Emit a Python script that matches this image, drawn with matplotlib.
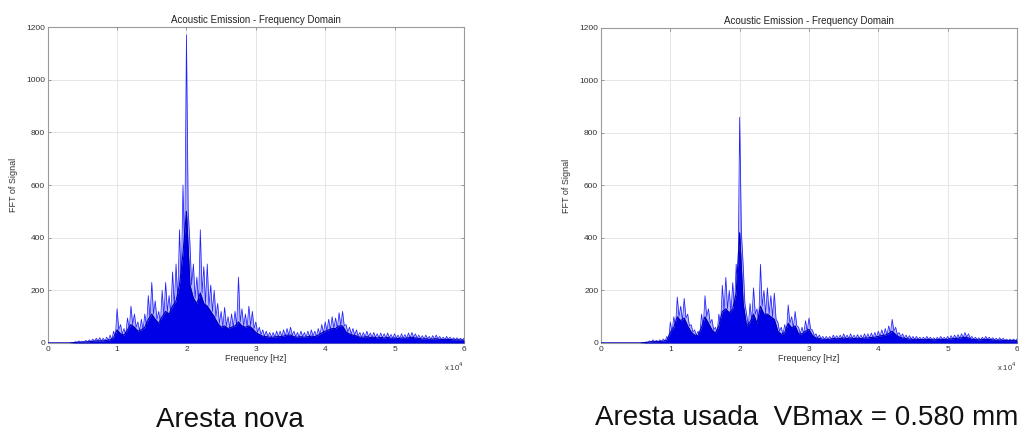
import numpy as np
import matplotlib
matplotlib.use('Agg')
import matplotlib.pyplot as plt

plt.rcParams['font.family'] = ['Liberation Sans', 'DejaVu Sans']

# frequency sampling positions (kHz), 0.5 kHz apart
freq_khz = np.arange(0, 60.01, 0.5)

# Aresta nova (new edge): peak envelope and dense core
new_peak = [0, 0, 0, 0, 0, 0, 0, 2, 5, 8,
            6, 10, 12, 15, 18, 20, 18, 22, 30, 45,
            130, 70, 55, 95, 140, 110, 80, 90, 110, 180,
            230, 160, 120, 200, 230, 180, 270, 300, 430, 600,
            1170, 380, 300, 250, 430, 290, 300, 220, 200, 150,
            120, 135, 100, 110, 120, 250, 130, 110, 140, 120,
            80, 60, 50, 45, 40, 40, 45, 45, 50, 55,
            60, 45, 40, 45, 40, 45, 50, 45, 55, 70,
            80, 90, 100, 95, 115, 120, 70, 60, 55, 50,
            40, 40, 45, 38, 40, 35, 38, 35, 38, 32,
            35, 30, 35, 32, 38, 40, 35, 30, 28, 30,
            25, 28, 30, 25, 22, 25, 22, 20, 20, 18,
            18]
new_core = [0, 0, 0, 0, 0, 0, 0, 1, 2, 3,
            3, 4, 5, 6, 8, 8, 8, 10, 12, 20,
            50, 35, 30, 50, 70, 60, 45, 50, 60, 90,
            110, 90, 75, 100, 120, 110, 140, 160, 220, 340,
            500, 220, 170, 150, 190, 150, 140, 120, 100, 75,
            60, 65, 55, 60, 65, 80, 65, 60, 65, 55,
            40, 32, 26, 24, 22, 22, 24, 24, 26, 30,
            30, 24, 22, 24, 22, 24, 26, 24, 30, 38,
            45, 50, 55, 55, 65, 65, 42, 34, 30, 27,
            22, 22, 24, 21, 22, 19, 21, 19, 21, 18,
            19, 17, 19, 18, 20, 22, 19, 17, 15, 16,
            14, 15, 16, 14, 13, 14, 13, 12, 12, 11,
            11]

# Aresta usada (worn edge, VBmax = 0.580 mm)
used_peak = [0, 0, 0, 0, 0, 0, 0, 0, 0, 0,
             0, 0, 2, 4, 8, 12, 10, 12, 15, 25,
             80, 100, 175, 140, 170, 110, 70, 50, 45, 110,
             180, 130, 90, 60, 110, 220, 250, 200, 230, 300,
             860, 300, 110, 150, 210, 130, 300, 200, 210, 180,
             190, 80, 60, 70, 145, 100, 120, 60, 60, 85,
             95, 50, 35, 30, 25, 25, 25, 30, 28, 30,
             35, 30, 35, 30, 32, 30, 35, 35, 38, 40,
             45, 50, 55, 65, 90, 60, 40, 35, 30, 28,
             25, 25, 22, 22, 25, 22, 20, 22, 25, 22,
             25, 28, 30, 32, 35, 40, 35, 25, 22, 20,
             22, 25, 22, 20, 18, 20, 18, 15, 15, 15,
             15]
used_core = [0, 0, 0, 0, 0, 0, 0, 0, 0, 0,
             0, 0, 1, 2, 4, 5, 5, 6, 7, 10,
             40, 60, 100, 85, 95, 65, 42, 30, 28, 60,
             100, 75, 50, 38, 65, 120, 130, 115, 130, 190,
             420, 150, 65, 80, 110, 75, 140, 110, 110, 100,
             90, 45, 33, 40, 75, 58, 65, 35, 35, 45,
             52, 28, 20, 17, 14, 14, 14, 17, 16, 17,
             19, 17, 19, 17, 18, 17, 19, 19, 21, 22,
             25, 28, 30, 36, 45, 32, 23, 19, 17, 15,
             14, 14, 13, 13, 14, 13, 12, 13, 14, 13,
             14, 16, 17, 18, 20, 22, 19, 14, 13, 12,
             13, 14, 13, 12, 10, 11, 10, 9, 9, 9,
             9]

x_ticks = [0, 10000, 20000, 30000, 40000, 50000, 60000]
x_tick_labels = ['0', '1', '2', '3', '4', '5', '6']
y_ticks = [0, 200, 400, 600, 800, 1000, 1200]

title = 'Acoustic Emission - Frequency Domain'
captions = ['Aresta nova', 'Aresta usada  VBmax = 0.580 mm']

fig = plt.figure(figsize=(10.19, 4.34), dpi=100)
ax1 = fig.add_axes([0.0468, 0.2097, 0.4085, 0.728])
ax2 = fig.add_axes([0.5898, 0.2097, 0.4082, 0.7258])


def draw(ax, peak, core):
    f = freq_khz * 1000.0
    xs, ys = [], []
    for i in range(len(f)):
        xs.append(f[i]); ys.append(peak[i])
        if i < len(f) - 1:
            xs.append(f[i] + 250.0); ys.append(core[i])
    ax.fill_between(xs, 0, ys, color='#5a5aff', alpha=0.45, lw=0, zorder=2)
    ax.plot(xs, ys, color='#2020ff', lw=0.55, zorder=3)
    ax.fill_between(f, 0, core, color='#0000e6', lw=0, zorder=4)
    ax.plot(f, core, color='#0000b0', lw=0.8, zorder=5)
    ax.set_xlim(0, 60000)
    ax.set_ylim(0, 1200)
    ax.set_xticks(x_ticks)
    ax.set_xticklabels(x_tick_labels)
    ax.set_yticks(y_ticks)
    ax.grid(True, color='#e2e2e2', lw=0.6, zorder=0)
    ax.set_axisbelow(True)
    ax.tick_params(direction='in', top=True, right=True, length=2.5, width=0.6,
                   labelsize=6, pad=2, color='#888888', labelcolor='#333333')
    for s in ax.spines.values():
        s.set_color('#9a9a9a')
        s.set_linewidth(0.8)
    ax.set_title(title, fontsize=7, pad=3, color='#222222')
    ax.set_xlabel('Frequency [Hz]', fontsize=6.5, labelpad=1, color='#333333')
    ax.set_ylabel('FFT of Signal', fontsize=6.5, labelpad=6, color='#333333')
    ax.text(1.0, -0.055, r'x 10$^4$', transform=ax.transAxes, ha='right',
            va='top', fontsize=5.5, color='#333333')


draw(ax1, new_peak, new_core)
draw(ax2, used_peak, used_core)

fig.text(230 / 1019, 1 - 420 / 434, captions[0], fontsize=20, ha='center',
         va='center', color='#111111')
fig.text(807 / 1019, 1 - 418 / 434, captions[1], fontsize=20, ha='center',
         va='center', color='#111111')

fig.savefig('out.png', dpi=100)
